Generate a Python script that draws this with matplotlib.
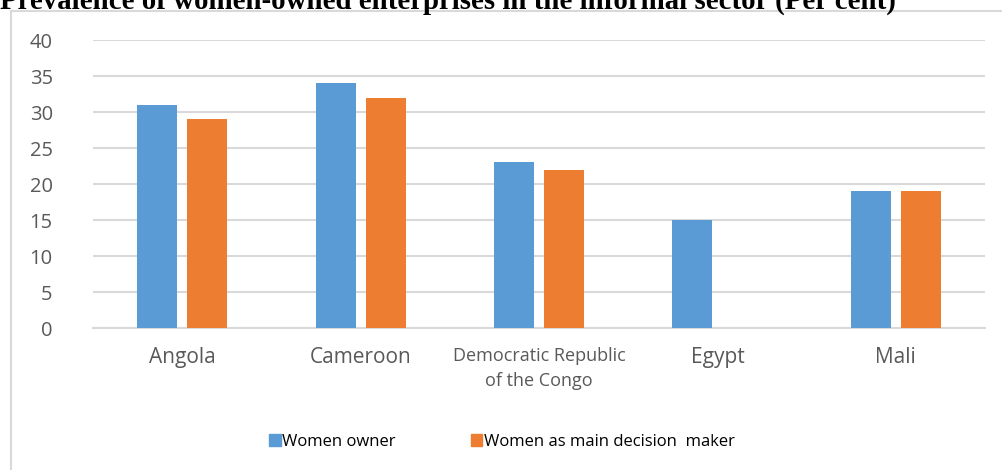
import matplotlib.pyplot as plt
import numpy as np
from matplotlib.patches import Rectangle, Patch

# data
countries = ["Angola", "Cameroon", "Democratic Republic\nof the Congo", "Egypt", "Mali"]
women_owner = [31, 34, 23, 15, 19]
women_decision = [29, 32, 22, 0, 19]
series_names = ["Women owner", "Women as main decision  maker"]
yticks = [0, 5, 10, 15, 20, 25, 30, 35, 40]

BLUE = "#5B9BD5"
ORANGE = "#ED7D31"
GRID = "#D9D9D9"
TXT = "#595959"

W, H = 1002, 470
fig = plt.figure(figsize=(W / 100, H / 100), dpi=100)
ax = fig.add_axes([93 / W, 1 - 328 / H, (985 - 93) / W, (328 - 40) / H])

x = np.arange(len(countries))
bw = 0.224
off = 0.14
ax.bar(x - off, women_owner, bw, color=BLUE, zorder=3)
ax.bar(x + off, women_decision, bw, color=ORANGE, zorder=3)

ax.set_xlim(-0.5, len(countries) - 0.5)
ax.set_ylim(0, 40)
ax.set_yticks(yticks)
ax.yaxis.grid(True, color=GRID, linewidth=1.5, zorder=0)
for s in ["top", "right", "left"]:
    ax.spines[s].set_visible(False)
ax.spines["bottom"].set_color(GRID)
ax.spines["bottom"].set_linewidth(1.5)
ax.tick_params(axis="both", length=0, labelcolor=TXT)
ax.tick_params(axis="y", pad=29, labelsize=14.5)
ax.set_xticks(x)
ax.set_xticklabels(countries, fontsize=15, family="Open Sans", linespacing=1.45)
for lab in ax.get_yticklabels():
    lab.set_family("Open Sans")
ax.get_xticklabels()[2].set_fontsize(13)
ax.tick_params(axis="x", pad=14)

# chart border (cut off at right/bottom in the source)
fig.patches.append(Rectangle((11 / W, -0.1), 1.2, 1 - 11 / H + 0.1,
                             transform=fig.transFigure, fill=False,
                             edgecolor=GRID, linewidth=1.5))

fig.text(0, 1 - 9 / H, "Prevalence of women-owned enterprises in the informal sector (Per cent)",
         family="Liberation Serif", fontweight="bold", fontsize=20.8,
         ha="left", va="baseline", color="black")

handles = [Patch(color=BLUE), Patch(color=ORANGE)]
fig.legend(handles, series_names, loc="center", bbox_to_anchor=(502 / W, 1 - 442 / H),
           ncol=2, frameon=False, handlelength=0.7, handleheight=0.7,
           handletextpad=0.1, columnspacing=4.5,
           prop={"family": "Open Sans", "size": 12})

fig.savefig("out.png", dpi=100)
